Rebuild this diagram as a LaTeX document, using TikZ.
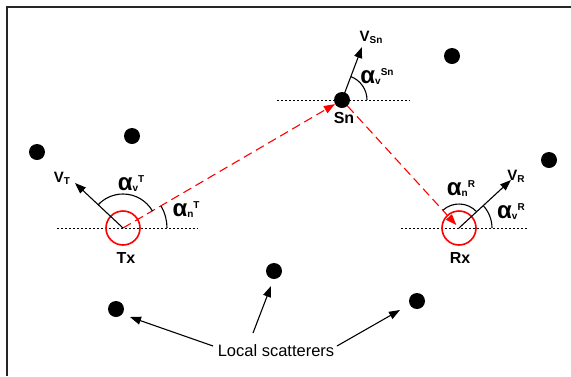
\documentclass[tikz,border=0pt]{standalone}
\usepackage{fontspec}
\setmainfont{Liberation Sans}
\usetikzlibrary{arrows.meta}
\newcommand\alp[2]{{\fontsize{24}{24}\selectfont α}{\fontsize{10}{10}\selectfont\raisebox{-1pt}{#1}\raisebox{8pt}{#2}}}
\newcommand\vel[1]{{\fontsize{15}{15}\selectfont V}{\fontsize{10}{10}\selectfont\raisebox{-2pt}{#1}}}
\begin{document}
\begin{tikzpicture}[x=1pt,y=-1pt,
  dot/.style={circle,fill=black,inner sep=0pt,minimum size=16pt},
  ant/.style={circle,draw=red,line width=1.6pt,inner sep=0pt,minimum size=34pt},
  refline/.style={line width=0.9pt,dash pattern=on 2pt off 2pt},
  lbl/.style={font=\bfseries\fontsize{16}{16}\selectfont,inner sep=0pt},
  ray/.style={red,line width=1.1pt,dash pattern=on 9pt off 5pt,-{Triangle[length=11pt,width=8pt]}},
  velarrow/.style={line width=1.1pt,-{Triangle[length=11pt,width=8pt]}},
  angarc/.style={line width=1.1pt},
  txt/.style={font=\bfseries,inner sep=0pt}]
\useasboundingbox (0,0) rectangle (571,376);
\draw[line width=1.8pt,black!85] (7,376) -- (7,7) -- (571,7);
% reference lines
\coordinate (tl1) at (57,228); \coordinate (tl2) at (198,228);
\coordinate (rl1) at (401,228); \coordinate (rl2) at (528,228);
\coordinate (sl1) at (277,100); \coordinate (sl2) at (410,100);
\draw[refline] (tl1) -- (tl2);
\draw[refline] (rl1) -- (rl2);
\draw[refline] (sl1) -- (sl2);
% antennas and scatterer
\node[ant] (tx) at (123,228) {};
\node[ant] (rx) at (459,228) {};
\node[dot] (sn) at (342,100) {};
% scatterers
\node[dot] (s1) at (37,152) {};
\node[dot] (s2) at (132,136) {};
\node[dot] (s3) at (452,56) {};
\node[dot] (s4) at (549,160) {};
\node[dot] (s5) at (274,271) {};
\node[dot] (s6) at (116,309) {};
\node[dot] (s7) at (417,301) {};
% rays
\draw[ray] (tx.center) -- (sn);
\draw[ray,shorten >=4pt] (sn) -- (rx.center);
% velocities
\coordinate (vt) at (75,183);
\coordinate (vs) at (362,47);
\coordinate (vr) at (511,180);
\draw[velarrow] (tx.center) -- (vt);
\draw[velarrow] (sn.center) -- (vs);
\draw[velarrow] (rx.center) -- (vr);
% angle arcs
\draw[angarc] ([shift={(-30:34)}]tx.center) arc[start angle=-30,end angle=-137,radius=34];
\draw[angarc] ([shift={(0:44)}]tx.center) arc[start angle=0,end angle=-30,radius=44];
\draw[angarc] ([shift={(0:25)}]sn.center) arc[start angle=0,end angle=-69,radius=25];
\draw[angarc] ([shift={(-43:24)}]rx.center) arc[start angle=-43,end angle=-132,radius=24];
\draw[angarc] ([shift={(0:33)}]rx.center) arc[start angle=0,end angle=-43,radius=33];
% labels
\node[lbl] (txl) at (126,258) {Tx};
\node[lbl] (rxl) at (460,258) {Rx};
\node[lbl] (snl) at (344,118) {Sn};
\node[txt] (vtl) at (62,178) {\vel{T}};
\node[txt] (vsl) at (371,37) {\vel{Sn}};
\node[txt] (vrl) at (516,176) {\vel{R}};
\node[txt] (avt) at (131,184) {\alp{v}{T}};
\node[txt] (ant) at (186,210) {\alp{n}{T}};
\node[txt] (avs) at (377,77) {\alp{v}{Sn}};
\node[txt] (anr) at (461,189) {\alp{n}{R}};
\node[txt] (avr) at (511,212) {\alp{v}{R}};
% local scatterers
\node[inner sep=0pt,font=\fontsize{16.5}{16.5}\selectfont] (ls) at (276,351) {Local scatterers};
\coordinate (a1) at (213,346);
\coordinate (a2) at (253,333);
\coordinate (a3) at (337,346);
\draw[velarrow] (a1) -- (130,317);
\draw[velarrow] (a2) -- (271,286);
\draw[velarrow] (a3) -- (400,310);
\end{tikzpicture}
\end{document}
